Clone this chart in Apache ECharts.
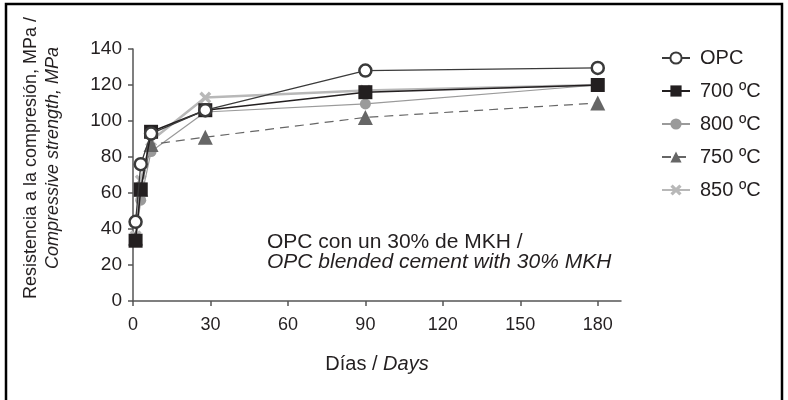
<!DOCTYPE html>
<html>
<head>
<meta charset="utf-8">
<script src="https://cdn.jsdelivr.net/npm/echarts@6/dist/echarts.min.js"></script>
<style>html,body{margin:0;padding:0;background:#fff}#c{width:788px;height:400px}</style>
</head>
<body>
<div id="c"></div>
<script>
var days = [1, 3, 7, 28, 90, 180];
var opc = [44, 76, 93, 106, 128, 129.5];
var t700 = [33.5, 62, 94, 106, 116, 120];
var t800 = [34, 56, 83, 105, 109.5, 120];
var t750 = [35, 62, 87, 91, 102, 110];
var t850 = [36, 67, 89, 113, 117, 120];
var xTicks = [0, 30, 60, 90, 120, 150, 180];
var seriesNames = ['OPC', '700 ºC', '800 ºC', '750 ºC', '850 ºC'];

function pairs(v) { return days.map(function (d, i) { return [d, v[i]]; }); }
var xPath = 'path://M0,2 L2,0 L5,3 L8,0 L10,2 L7,5 L10,8 L8,10 L5,7 L2,10 L0,8 L3,5 Z';
var font = 'Liberation Sans, Arial, sans-serif';
var txt = '#231f20';

var chart = echarts.init(document.getElementById('c'));
chart.setOption({
  animation: false,
  textStyle: { fontFamily: font },
  grid: { left: 133, right: 167, top: 49, bottom: 99 },
  xAxis: {
    type: 'value', min: 0, max: 189, interval: 30,
    splitLine: { show: false },
    axisLine: { lineStyle: { color: '#555', width: 1.5 } },
    axisTick: { show: true, length: 5, lineStyle: { color: '#555', width: 1.5 }, customValues: xTicks },
    axisLabel: { color: txt, fontSize: 18, margin: 15, customValues: xTicks, fontFamily: font },
    name: '{a|Días / }{b|Days}', nameLocation: 'middle', nameGap: 53,
    nameTextStyle: { rich: { a: { fontSize: 20, color: txt, fontFamily: font }, b: { fontSize: 20, color: txt, fontStyle: 'italic', fontFamily: font } } }
  },
  yAxis: {
    type: 'value', min: 0, max: 140, interval: 20,
    splitLine: { show: false },
    axisLine: { show: true, lineStyle: { color: '#555', width: 1.5 } },
    axisTick: { show: true, length: 5, lineStyle: { color: '#555', width: 1.5 } },
    axisLabel: { color: txt, fontSize: 19, margin: 11, fontFamily: font }
  },
  legend: {
    orient: 'vertical', left: 656, top: 43,
    itemWidth: 28, itemHeight: 14, itemGap: 13,
    textStyle: { fontSize: 20, color: txt, padding: [0, 0, 0, 5], fontFamily: font },
    data: seriesNames
  },
  graphic: [
    { type: 'rect', shape: { x: 6, y: 4, width: 776, height: 430 }, style: { fill: 'none', stroke: '#000', lineWidth: 2.5 }, silent: true },
    { type: 'text', x: 267, y: 242, style: { text: 'OPC con un 30% de MKH /', font: '21px ' + font, fill: txt, textVerticalAlign: 'middle' } },
    { type: 'text', x: 267, y: 262, style: { text: 'OPC blended cement with 30% MKH', font: 'italic 21px ' + font, fill: txt, textVerticalAlign: 'middle' } },
    { type: 'text', x: 31, y: 158, rotation: Math.PI / 2, style: { text: 'Resistencia a la compresión, MPa /', font: '18px ' + font, fill: txt, textAlign: 'center', textVerticalAlign: 'middle' } },
    { type: 'text', x: 53, y: 158, rotation: Math.PI / 2, style: { text: 'Compressive strength, MPa', font: 'italic 18px ' + font, fill: txt, textAlign: 'center', textVerticalAlign: 'middle' } }
  ],
  series: [
    { name: 'OPC', type: 'line', data: pairs(opc), symbol: 'circle', symbolSize: 12, z: 5,
      lineStyle: { color: '#3a3a3a', width: 1.3 }, itemStyle: { color: '#fff', borderColor: '#3a3a3a', borderWidth: 2.5 } },
    { name: '700 ºC', type: 'line', data: pairs(t700), symbol: 'rect', symbolSize: 14, z: 4,
      lineStyle: { color: '#231f20', width: 1.5 }, itemStyle: { color: '#231f20' } },
    { name: '800 ºC', type: 'line', data: pairs(t800), symbol: 'circle', symbolSize: 11, z: 3,
      lineStyle: { color: '#9a9a9a', width: 1.2 }, itemStyle: { color: '#9a9a9a' } },
    { name: '750 ºC', type: 'line', data: pairs(t750), symbol: 'triangle', symbolSize: 15, z: 3,
      lineStyle: { color: '#666', width: 1.2, type: [9, 6] }, itemStyle: { color: '#666' } },
    { name: '850 ºC', type: 'line', data: pairs(t850), symbol: xPath, symbolSize: 12, z: 2,
      lineStyle: { color: '#b8b8b8', width: 2.5 }, itemStyle: { color: '#b8b8b8' } }
  ]
});
</script>
</body>
</html>
